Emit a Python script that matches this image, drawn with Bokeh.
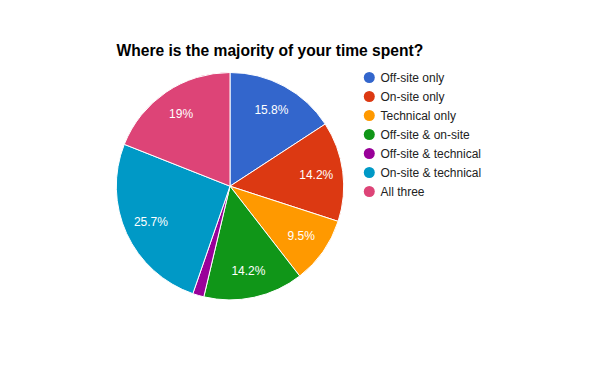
import numpy as np
from bokeh.plotting import figure
from bokeh.models import Range1d, ColumnDataSource
from bokeh.core.properties import value
from bokeh.embed import file_html
from bokeh.resources import INLINE

title = "Where is the majority of your time spent?"
categories = ["Off-site only", "On-site only", "Technical only", "Off-site & on-site",
              "Off-site & technical", "On-site & technical", "All three"]
shares = [15.8, 14.2, 9.5, 14.2, 1.6, 25.7, 19.0]
slice_labels = ["15.8%", "14.2%", "9.5%", "14.2%", "", "25.7%", "19%"]
colors = ["#3366cc", "#dc3912", "#ff9900", "#109618", "#990099", "#0099c6", "#dd4477"]

W, H = 584, 355
FONT = "Liberation Sans"

p = figure(width=W, height=H, output_backend="svg", toolbar_location=None,
           x_range=Range1d(0, W), y_range=Range1d(0, H), min_border=0,
           outline_line_color=None, background_fill_color="white")
p.axis.visible = False
p.grid.visible = False

def X(px):
    return px

def Y(py):
    return H - py

cx, cy, r = X(229.5), Y(185.7), 113.7

vals = np.array(shares, dtype=float)
frac = vals / vals.sum()
cum_end = np.cumsum(frac)
cum_start = cum_end - frac
start = np.pi / 2 - 2 * np.pi * cum_start
end = np.pi / 2 - 2 * np.pi * cum_end
mid = 2 * np.pi * (cum_start + cum_end) / 2

src = ColumnDataSource(dict(start=start, end=end, color=colors))
p.wedge(x=cx, y=cy, radius=r, radius_units="screen", start_angle="start", end_angle="end",
        direction="clock", fill_color="color", line_color="white", line_width=1, source=src)

rl = 87
lsrc = ColumnDataSource(dict(x=cx + rl * np.sin(mid), y=cy + rl * np.cos(mid), t=slice_labels))
p.text(x="x", y="y", text="t", source=lsrc, text_color="white", text_font=value(FONT),
       text_font_size="12px", text_align="center", text_baseline="middle")

# legend
ly = [Y(77 + 19 * i) for i in range(len(categories))]
gsrc = ColumnDataSource(dict(x=[X(368.8)] * len(categories), tx=[X(380)] * len(categories),
                             y=ly, c=colors, t=categories))
p.scatter(x="x", y="y", size=11, fill_color="c", line_color=None, source=gsrc)
p.text(x="tx", y="y", text="t", source=gsrc, text_color="#222222", text_font=value(FONT),
       text_font_size="12px", text_align="left", text_baseline="middle")

# title
p.text(x=[X(116)], y=[Y(49.5)], text=[title], text_color="#000000", text_font=value(FONT),
       text_font_size="15.6px", text_font_style="bold", text_align="left",
       text_baseline="alphabetic")

open("out.html", "w").write(file_html(p, INLINE))
